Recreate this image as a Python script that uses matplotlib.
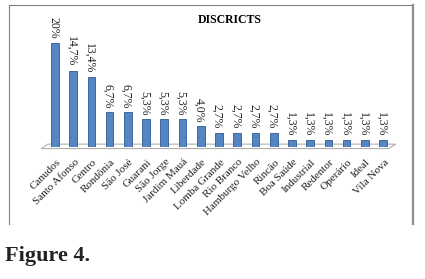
import matplotlib.pyplot as plt
from matplotlib.patches import Polygon
from matplotlib.lines import Line2D

# dados
bairros = ['Canudos', 'Santo Afonso', 'Centro', 'Rondônia', 'São José', 'Guarani',
           'São Jorge', 'Jardim Mauá', 'Liberdade', 'Lomba Grande', 'Rio Branco',
           'Hamburgo Velho', 'Rincão', 'Boa Saúde', 'Industrial', 'Redentor',
           'Operário', 'Ideal', 'Vila Nova']
valores = [20, 14.7, 13.4, 6.7, 6.7, 5.3, 5.3, 5.3, 4.0, 2.7, 2.7, 2.7, 2.7,
           1.3, 1.3, 1.3, 1.3, 1.3, 1.3]
rotulos = ['20%', '14,7%', '13,4%', '6,7%', '6,7%', '5,3%', '5,3%', '5,3%', '4,0%',
           '2,7%', '2,7%', '2,7%', '2,7%', '1,3%', '1,3%', '1,3%', '1,3%', '1,3%', '1,3%']

W, H = 425, 279
fig = plt.figure(figsize=(W / 100, H / 100), dpi=100)
fig.patch.set_facecolor('white')

# moldura
fig.add_artist(Line2D([9 / W, 9 / W], [1 - 224 / H, 1 - 5 / H], color='#808080', lw=0.8))
fig.add_artist(Line2D([9 / W, 413 / W], [1 - 5 / H, 1 - 5 / H], color='#808080', lw=0.8))
fig.add_artist(Line2D([413 / W, 413 / W], [1 - 224 / H, 1 - 5 / H], color='#909090', lw=1.6))

ax = fig.add_axes([38 / W, 1 - 147 / H, 362 / W, 104 / H])
ax.set_xlim(-0.93, 18.93)
ax.set_ylim(0, 20)
ax.axis('off')

x = list(range(len(bairros)))

# piso 3D
piso = Polygon([(-0.75, -0.3), (18.3, -0.3), (18.7, 0.55), (-0.4, 0.55)], closed=True,
               facecolor='white', edgecolor='#b0b0b0', lw=0.8, clip_on=False, zorder=1)
ax.add_patch(piso)

ax.bar(x, valores, width=0.42, color='#5585c2', edgecolor='#30598f', lw=0.6, zorder=2)

for xi, v, r in zip(x, valores, rotulos):
    ax.text(xi - 0.1, v + 0.8, r, rotation=270, ha='center', va='bottom', fontsize=8.5,
            family='Liberation Serif', color='#222222', clip_on=False)

for xi, b in zip(x, bairros):
    ax.text(xi + 0.05, -2.0, b, rotation=45, ha='right', va='top', rotation_mode='anchor',
            fontsize=8, family='Liberation Serif', color='#222222', clip_on=False)

fig.text(230 / W, 1 - 20 / H, 'DISCRICTS', ha='center', va='center', fontsize=8.5,
         fontweight='bold', family='Liberation Serif')

fig.text(5 / W, 1 - 256 / H, 'Figure 4.', ha='left', va='center', fontsize=16,
         fontweight='bold', family='Liberation Serif', color='#222222')

fig.savefig('out.png', dpi=100)
